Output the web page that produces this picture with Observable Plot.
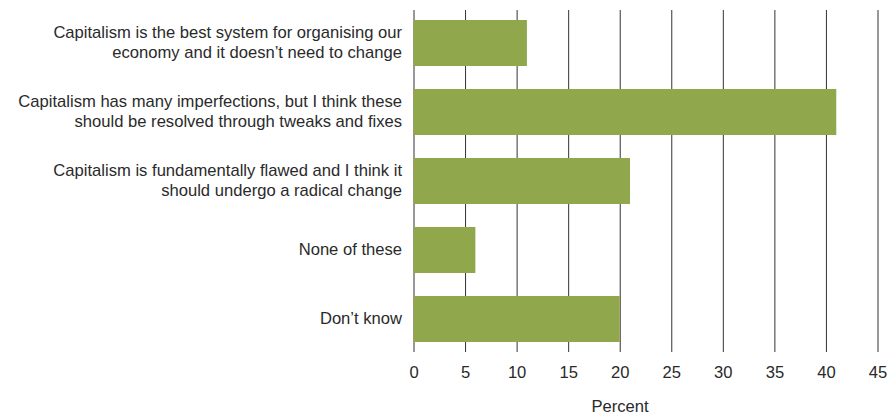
<!DOCTYPE html>
<html>
<head>
<meta charset="utf-8">
<script src="https://cdn.jsdelivr.net/npm/d3@7"></script>
<script src="https://cdn.jsdelivr.net/npm/@observablehq/plot@0.6"></script>
<style>
  html, body { margin: 0; padding: 0; background: #fff; }
  #chart svg { display: block; }
</style>
</head>
<body>
<div id="chart"></div>
<script>
const categories = [
  "Capitalism is the best system for organising our\neconomy and it doesn’t need to change",
  "Capitalism has many imperfections, but I think these\nshould be resolved through tweaks and fixes",
  "Capitalism is fundamentally flawed and I think it\nshould undergo a radical change",
  "None of these",
  "Don’t know"
];
const values = [11, 41, 21, 6, 20];
const xTicks = [0, 5, 10, 15, 20, 25, 30, 35, 40, 45];
const axisLabel = "Percent";

const data = categories.map((c, i) => ({category: c, value: values[i]}));

const chart = Plot.plot({
  width: 892,
  height: 414,
  marginLeft: 413.5,
  marginRight: 14.5,
  marginTop: 10,
  marginBottom: 62,
  style: {fontFamily: "'Liberation Sans', Arial, sans-serif", fontSize: "16.6px", color: "#2a2a2a", background: "#fff"},
  x: {domain: [0, 45], ticks: xTicks},
  y: {domain: categories, paddingInner: 0.34, paddingOuter: 0.13},
  marks: [
    Plot.ruleX(xTicks, {stroke: "#333", strokeWidth: 1, strokeOpacity: 1}),
    Plot.barX(data, {x: "value", y: "category", fill: "#90a84b"}),
    Plot.axisX({ticks: xTicks, tickSize: 0, tickPadding: 14, label: null, fontSize: 16.6, fill: "#2a2a2a"}),
    Plot.axisY({tickSize: 0, tickPadding: 12, label: null, fontSize: 16.6, lineHeight: 1.22, fill: "#2a2a2a", dy: -2}),
    Plot.text([axisLabel], {frameAnchor: "bottom", dy: 59, dx: -26, fontSize: 16.6, fill: "#2a2a2a"})
  ]
});
document.getElementById("chart").appendChild(chart);
</script>
</body>
</html>
